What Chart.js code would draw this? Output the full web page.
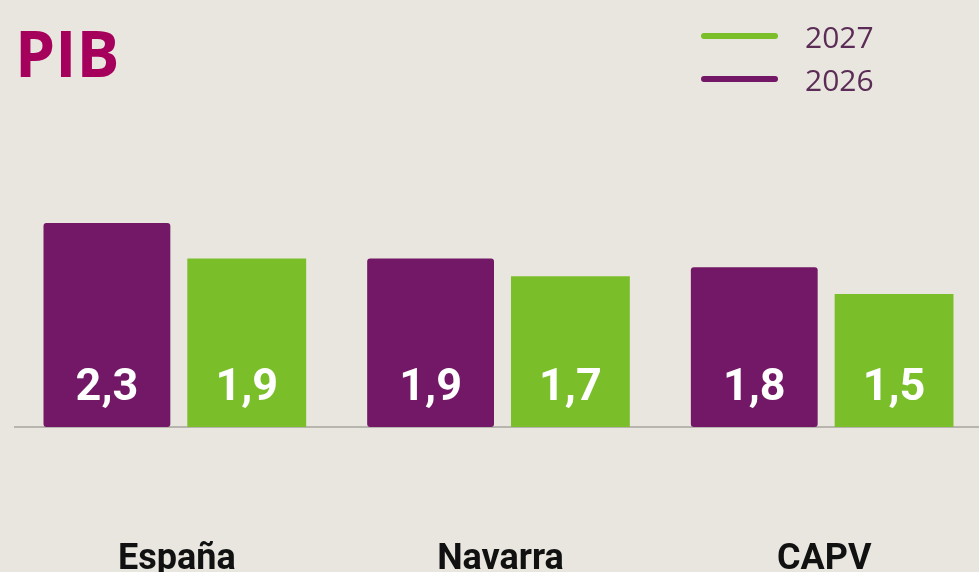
<!DOCTYPE html>
<html>
<head>
<meta charset="utf-8">
<script src="https://cdn.jsdelivr.net/npm/chart.js@4/dist/chart.umd.min.js"></script>
<style>
  html, body { margin: 0; padding: 0; background: #e9e6df; overflow: hidden; }
  #wrap { position: absolute; left: 0; top: 0; width: 990px; height: 693px; }
</style>
</head>
<body>
<div id="wrap"><canvas id="c"></canvas></div>
<script>
const categories = ['España', 'Navarra', 'CAPV'];
const seriesLabels = ['2026', '2027'];
const values2026 = [2.3, 1.9, 1.8];
const values2027 = [1.9, 1.7, 1.5];
const titleText = 'PIB';

const PURPLE = '#731866';
const GREEN = '#7abf2a';

const valueLabels = {
  id: 'valueLabels',
  afterDatasetsDraw(chart) {
    const ctx = chart.ctx;
    ctx.save();
    ctx.fillStyle = '#ffffff';
    ctx.font = 'bold 45px Roboto';
    ctx.textAlign = 'center';
    ctx.textBaseline = 'alphabetic';
    chart.data.datasets.forEach((ds, di) => {
      const meta = chart.getDatasetMeta(di);
      meta.data.forEach((el, i) => {
        const txt = String(ds.data[i]).replace('.', ',');
        ctx.fillText(txt, el.x, el.base - 27);
      });
    });
    ctx.restore();
  }
};

const lineLegend = {
  id: 'lineLegend',
  afterDraw(chart, args, opts) {
    const ctx = chart.ctx;
    ctx.save();
    const ds = chart.data.datasets.slice().reverse();
    ds.forEach((d, i) => {
      const y = opts.y + i * opts.step;
      ctx.strokeStyle = d.backgroundColor;
      ctx.lineWidth = 6;
      ctx.lineCap = 'round';
      ctx.beginPath();
      ctx.moveTo(opts.x1, y);
      ctx.lineTo(opts.x2, y);
      ctx.stroke();
      ctx.fillStyle = '#5b2d56';
      ctx.font = '30px "Open Sans"';
      ctx.textAlign = 'left';
      ctx.textBaseline = 'middle';
      ctx.fillText(d.label, opts.tx, y + 3);
    });
    ctx.restore();
  }
};

new Chart(document.getElementById('c'), {
  type: 'bar',
  data: {
    labels: categories,
    datasets: [
      {
        label: seriesLabels[0],
        data: values2026,
        backgroundColor: PURPLE,
        borderRadius: 3,
        borderSkipped: false,
        categoryPercentage: 0.864,
        barPercentage: 0.907
      },
      {
        label: seriesLabels[1],
        data: values2027,
        backgroundColor: GREEN,
        categoryPercentage: 0.864,
        barPercentage: 0.85
      }
    ]
  },
  options: {
    responsive: true,
    maintainAspectRatio: false,
    animation: false,
    layout: { padding: { left: 15, right: 4, top: 0, bottom: 0 } },
    plugins: {
      legend: { display: false },
      tooltip: { enabled: false },
      title: {
        display: true,
        text: titleText,
        align: 'start',
        color: '#a6005d',
        font: { family: 'Open Sans', size: 64, weight: 'bold', lineHeight: 1.2 },
        padding: { top: 20, bottom: 19.7 }
      },
      lineLegend: { x1: 704, x2: 775, y: 36, step: 43, tx: 805 }
    },
    scales: {
      x: {
        grid: { display: false, drawTicks: false },
        border: { display: true, color: '#b8b5af', width: 2 },
        ticks: {
          color: '#111111',
          padding: 115,
          font: { family: 'Roboto', size: 36, weight: 'bold', lineHeight: 1 }
        }
      },
      y: {
        display: false,
        min: 0,
        max: 3.5
      }
    }
  },
  plugins: [valueLabels, lineLegend]
});
</script>
</body>
</html>
